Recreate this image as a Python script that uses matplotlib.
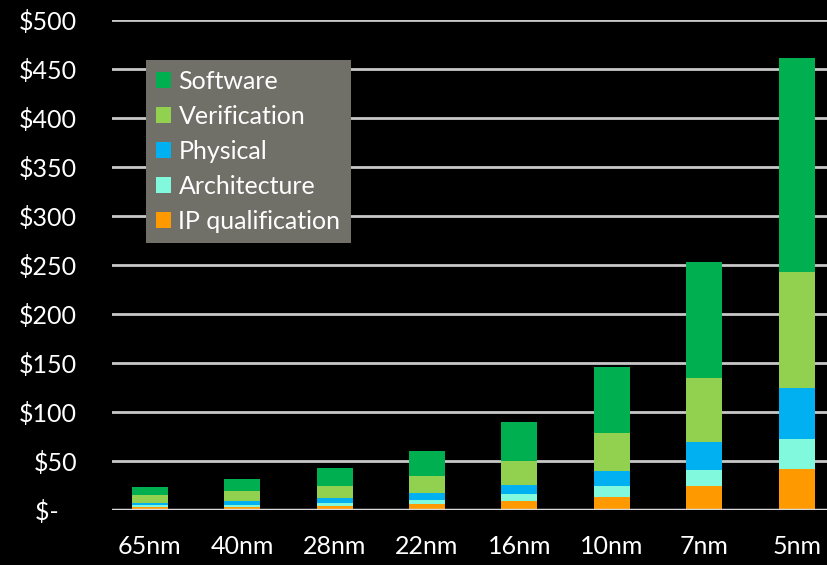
import matplotlib
matplotlib.use("Agg")
import matplotlib.pyplot as plt
import numpy as np

plt.rcParams['font.family'] = ['Lato', 'DejaVu Sans']

nodes = ["65nm", "40nm", "28nm", "22nm", "16nm", "10nm", "7nm", "5nm"]

# cost per design phase ($M), stacked bottom to top
ip_qual      = [3.0, 3.0, 4.5, 6.0, 9.0, 13.5, 24.0, 42.0]
architecture = [2.0, 2.5, 3.0, 4.5, 7.0, 10.5, 17.0, 30.0]
physical     = [2.0, 4.0, 4.5, 6.5, 9.5, 16.0, 28.0, 52.0]
verification = [8.0, 9.5, 13.0, 17.5, 25.0, 38.5, 66.0, 119.0]
software     = [8.5, 12.5, 17.5, 25.5, 39.0, 67.0, 118.0, 218.0]

series = [
    ("IP qualification", ip_qual, "#FF9900"),
    ("Architecture", architecture, "#80F9DD"),
    ("Physical", physical, "#00B0F0"),
    ("Verification", verification, "#92D050"),
    ("Software", software, "#00B050"),
]

yticks = [0, 50, 100, 150, 200, 250, 300, 350, 400, 450, 500]
ytick_labels = ["$-   "] + ["$%d" % v for v in yticks[1:]]

fig = plt.figure(figsize=(8.28, 5.65), dpi=100)
fig.patch.set_facecolor("black")
ax = fig.add_axes([112 / 828, 55 / 565, 1 - 112 / 828, 490 / 565])
ax.set_facecolor("black")

x = np.arange(len(nodes))
bottom = np.zeros(len(nodes))
handles = {}
for name, vals, color in series:
    vals = np.array(vals)
    b = ax.bar(x, vals, width=0.39, bottom=bottom, color=color,
               edgecolor=color, linewidth=0, zorder=3)
    handles[name] = b
    bottom += vals

ax.set_xlim(-0.41, 7.34)
ax.set_ylim(0, 500)
ax.set_yticks(yticks)
ax.set_yticklabels(ytick_labels)
ax.set_xticks(x)
ax.set_xticklabels(nodes)

ax.yaxis.grid(True, color="#c8c8c8", linewidth=2, zorder=0)
ax.set_axisbelow(True)
for s in ax.spines.values():
    s.set_visible(False)
ax.axhline(0, color="#d9d9d9", linewidth=2.5, zorder=4)

ax.tick_params(axis="y", length=0, pad=25, labelsize=18, labelcolor="white")
ax.tick_params(axis="x", length=0, pad=18, labelsize=18, labelcolor="white")

order = ["Software", "Verification", "Physical", "Architecture", "IP qualification"]
leg = ax.legend([handles[n] for n in order], order,
                loc="upper left", bbox_to_anchor=(146 / 828, 505 / 565),
                bbox_transform=fig.transFigure, borderaxespad=0,
                fontsize=18, frameon=True, fancybox=False,
                facecolor="#706F68", edgecolor="none", framealpha=1,
                handlelength=0.6, handleheight=0.6, handletextpad=0.3,
                labelspacing=0.48, borderpad=0.4)
for t in leg.get_texts():
    t.set_color("white")

fig.savefig("out.png", dpi=100, facecolor="black")
